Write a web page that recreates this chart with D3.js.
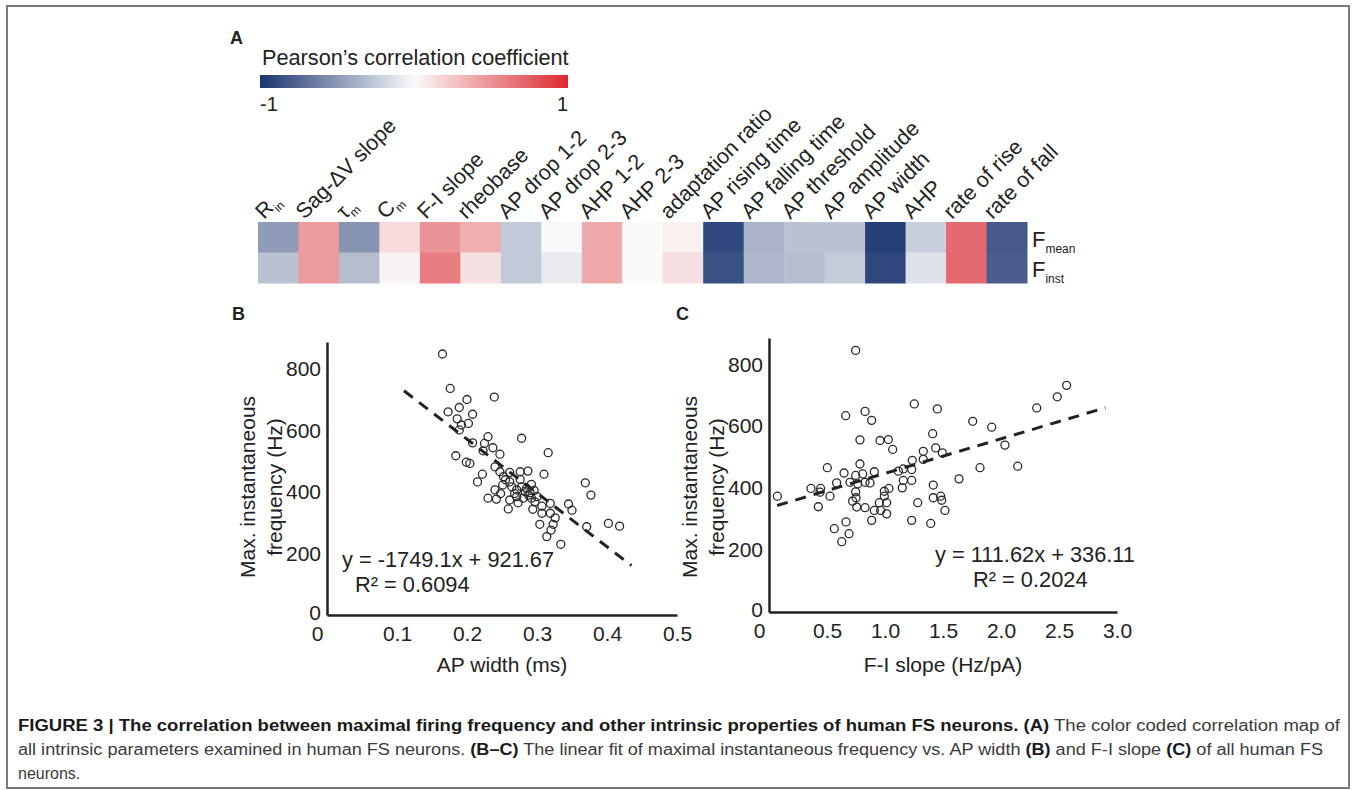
<!DOCTYPE html>
<html>
<head>
<meta charset="utf-8">
<script src="https://cdn.jsdelivr.net/npm/d3@7/dist/d3.min.js"></script>
<style>
  body { margin: 0; background: #fff; }
  svg text { font-family: "Liberation Sans", Arial, sans-serif; fill: #222; }
</style>
</head>
<body>
<div class="center"></div>
<script>
// ---- data ----
const params = ["R_in", "Sag-ΔV slope", "τ_m", "C_m", "F-I slope", "rheobase", "AP drop 1-2",
  "AP drop 2-3", "AHP 1-2", "AHP 2-3", "adaptation ratio", "AP rising time", "AP falling time",
  "AP threshold", "AP amplitude", "AP width", "AHP", "rate of rise", "rate of fall"];
const rowNames = ["mean", "inst"];
// Pearson r vs F_mean and F_inst
const rMean = [-0.48, 0.46, -0.52, 0.15, 0.49, 0.36, -0.25, -0.01, 0.39, 0.0, 0.05,
  -0.9, -0.36, -0.29, -0.29, -0.95, -0.22, 0.69, -0.81];
const rInst = [-0.29, 0.46, -0.31, 0.04, 0.6, 0.12, -0.25, -0.08, 0.39, 0.0, 0.13,
  -0.86, -0.34, -0.31, -0.24, -0.91, -0.12, 0.69, -0.79];
const legendTicks = [-1, 1];

// B: AP width (ms) vs max. instantaneous frequency (Hz)
const scatterB = [[0.165,849],[0.176,737],[0.239,709],[0.200,701],[0.173,661],[0.189,675],[0.208,653],
  [0.186,638],[0.202,623],[0.192,618],[0.189,602],[0.278,575],[0.230,580],[0.208,560],[0.225,558],
  [0.237,544],[0.223,534],[0.316,528],[0.247,523],[0.184,518],[0.199,497],[0.204,493],[0.240,482],
  [0.247,466],[0.261,464],[0.276,466],[0.287,468],[0.310,458],[0.222,458],[0.215,433],[0.252,450],
  [0.261,433],[0.276,441],[0.292,425],[0.240,407],[0.251,423],[0.264,417],[0.271,407],[0.278,417],
  [0.283,401],[0.288,390],[0.292,380],[0.280,380],[0.271,385],[0.230,380],[0.242,377],[0.261,374],
  [0.273,365],[0.259,345],[0.297,368],[0.294,344],[0.307,354],[0.319,363],[0.307,331],[0.319,331],
  [0.345,361],[0.350,341],[0.326,316],[0.304,295],[0.323,295],[0.314,255],[0.320,276],[0.334,230],
  [0.369,430],[0.377,390],[0.371,287],[0.402,298],[0.418,289],[0.285,412],[0.290,398],[0.268,395],
  [0.255,440],[0.296,405],[0.300,385],[0.248,395]];
const fitB = {slope: -1749.1, intercept: 921.67, from: 0.11, to: 0.435};
const xTicksB = [0, 0.1, 0.2, 0.3, 0.4, 0.5];

// C: F-I slope (Hz/pA) vs max. instantaneous frequency (Hz)
const scatterC = [[0.747,845],[2.566,732],[2.485,695],[2.308,659],[1.253,672],[1.451,656],[0.661,634],
  [0.828,648],[0.885,619],[1.756,616],[1.920,597],[0.784,556],[0.957,554],[1.029,557],[1.066,525],
  [1.411,576],[1.437,530],[1.330,519],[1.494,514],[2.034,539],[1.330,493],[1.235,490],[2.144,471],
  [1.819,466],[0.503,466],[0.784,478],[0.647,449],[0.747,441],[0.808,446],[0.908,453],[1.115,455],
  [1.158,462],[1.230,460],[1.158,425],[1.230,425],[1.638,430],[0.583,417],[0.698,419],[0.765,414],
  [0.828,419],[0.871,417],[0.362,399],[0.445,399],[0.440,387],[0.526,374],[0.072,374],[0.747,388],
  [0.750,369],[0.994,390],[1.034,399],[1.149,401],[1.416,410],[1.416,369],[1.480,374],[1.489,361],
  [0.994,374],[1.014,353],[0.951,353],[0.721,358],[0.756,339],[0.828,337],[0.908,328],[0.963,328],
  [1.014,317],[1.282,353],[1.517,328],[0.425,340],[0.664,291],[0.563,269],[0.690,253],[0.627,227],
  [0.885,296],[1.230,296],[1.394,286]];
const fitC = {slope: 111.62, intercept: 336.11, from: 0.07, to: 2.9};
const xTicksC = [0, 0.5, 1.0, 1.5, 2.0, 2.5, 3.0];
const yTicks = [0, 200, 400, 600, 800];

// ---- page ----
const svg = d3.select(".center").append("svg")
  .attr("width", 1357)
  .attr("height", 790);

// frame
svg.append("rect")
  .attr("x", 7).attr("y", 6)
  .attr("width", 1342).attr("height", 782)
  .attr("fill", "none")
  .attr("stroke", "#7a7a7a")
  .attr("stroke-width", 2);

// ---- A: correlation map ----
const color = d3.scaleLinear()
  .domain([-1, 0, 1])
  .range(["#1b3570", "#fafafa", "#dc2a30"]);

svg.append("text")
  .attr("x", 230).attr("y", 44)
  .style("font-size", "18px").style("font-weight", "700")
  .text("A");

svg.append("text")
  .attr("x", 262).attr("y", 65)
  .style("font-size", "21.7px")
  .text("Pearson’s correlation coefficient");

const grad = svg.append("defs").append("linearGradient").attr("id", "rgrad");
d3.range(-1, 1.01, 0.25).forEach(v => {
  grad.append("stop").attr("offset", ((v + 1) / 2 * 100) + "%").attr("stop-color", color(v));
});
const legendScale = d3.scaleLinear().domain([-1, 1]).range([260, 568]);
svg.append("rect")
  .attr("x", legendScale(-1)).attr("y", 75)
  .attr("width", legendScale(1) - legendScale(-1)).attr("height", 13)
  .attr("fill", "url(#rgrad)");
svg.selectAll(".legtick")
  .data(legendTicks)
  .enter().append("text")
  .attr("class", "legtick")
  .attr("x", d => legendScale(d))
  .attr("y", 111)
  .attr("text-anchor", d => d < 0 ? "start" : "end")
  .style("font-size", "20px")
  .text(d => d);

const xHeat = d3.scaleBand().domain(params).range([258, 1027]);
const yHeat = d3.scaleBand().domain(rowNames).range([222, 283]);

const cells = [];
params.forEach((p, i) => {
  cells.push({p: p, row: "mean", r: rMean[i]});
  cells.push({p: p, row: "inst", r: rInst[i]});
});
svg.selectAll(".cell")
  .data(cells)
  .enter().append("rect")
  .attr("class", "cell")
  .attr("x", d => xHeat(d.p))
  .attr("y", d => yHeat(d.row))
  .attr("width", xHeat.bandwidth() + 0.5)
  .attr("height", yHeat.bandwidth() + 0.5)
  .attr("fill", d => color(d.r));

// rotated column labels, some with subscripts
const colLabels = svg.selectAll(".collab")
  .data(params)
  .enter().append("text")
  .attr("class", "collab")
  .attr("transform", d => `translate(${xHeat(d) + 6},220) rotate(-45)`)
  .style("font-size", "21.5px");
colLabels.each(function(d) {
  const parts = d.split("_");
  const t = d3.select(this);
  t.append("tspan").text(parts[0]);
  if (parts.length > 1) {
    t.append("tspan").attr("dy", 5).style("font-size", "12px").text(parts[1]);
  }
});

// row labels
svg.selectAll(".rowlab")
  .data(rowNames)
  .enter().append("text")
  .attr("class", "rowlab")
  .attr("x", 1032)
  .attr("y", d => yHeat(d) + 24.5)
  .style("font-size", "22px")
  .each(function(d) {
    const t = d3.select(this);
    t.append("tspan").text("F");
    t.append("tspan").attr("dy", 6).style("font-size", "12px").text(d);
  });

// ---- B and C: scatter plots ----
function scatter(opts) {
  const x = d3.scaleLinear().domain(opts.xDomain).range(opts.xRange);
  const y = d3.scaleLinear().domain(opts.yDomain).range(opts.yRange);
  const g = svg.append("g");

  g.append("text")
    .attr("x", opts.letterX).attr("y", 320)
    .style("font-size", "18px").style("font-weight", "700")
    .text(opts.letter);

  const xAxis = d3.axisBottom(x)
    .tickValues(opts.xTicks)
    .tickSize(0).tickPadding(11)
    .tickFormat(d => d === 0 ? "0" : d3.format(".1f")(d));
  const yAxis = d3.axisLeft(y)
    .tickValues(yTicks)
    .tickSize(0).tickPadding(6);

  const gx = g.append("g")
    .attr("transform", `translate(0,${opts.yRange[0]})`)
    .call(xAxis);
  const gy = g.append("g")
    .attr("transform", `translate(${opts.xRange[0]},0)`)
    .call(yAxis);
  [gx, gy].forEach(a => {
    a.select(".domain").attr("stroke", "#222").attr("stroke-width", 2.5);
    a.selectAll("text").style("font-size", "21px").attr("fill", "#222")
      .style("font-family", "'Liberation Sans', Arial, sans-serif");
  });
  gx.selectAll(".tick text").filter(d => d === 0).attr("dx", -10);
  gy.selectAll(".tick text").filter(d => d === 0).attr("dy", "0.2em");

  // axis titles
  const midY = 487;
  g.append("text")
    .attr("transform", `translate(${opts.xRange[0] - 72},${midY}) rotate(-90)`)
    .attr("text-anchor", "middle")
    .style("font-size", "21px")
    .text("Max. instantaneous");
  g.append("text")
    .attr("transform", `translate(${opts.xRange[0] - 45},${midY}) rotate(-90)`)
    .attr("text-anchor", "middle")
    .style("font-size", "21px")
    .text("frequency (Hz)");
  g.append("text")
    .attr("x", (opts.xRange[0] + opts.xRange[1]) / 2)
    .attr("y", 672)
    .attr("text-anchor", "middle")
    .style("font-size", "21px")
    .text(opts.xTitle);

  // points
  g.selectAll("circle")
    .data(opts.points)
    .enter().append("circle")
    .attr("cx", d => x(d[0]))
    .attr("cy", d => y(d[1]))
    .attr("r", 4)
    .attr("fill", "none")
    .attr("stroke", "#2a2a2a")
    .attr("stroke-width", 1.3);

  // linear fit
  const f = opts.fit;
  const line = d3.line().x(d => x(d)).y(d => y(f.slope * d + f.intercept));
  g.append("path")
    .attr("d", line([f.from, f.to]))
    .attr("fill", "none")
    .attr("stroke", "#222")
    .attr("stroke-width", 3)
    .attr("stroke-dasharray", "11,8");

  g.append("text")
    .attr("x", opts.eqX).attr("y", opts.eqY)
    .style("font-size", "21.8px")
    .text(`y = ${f.slope}x + ${f.intercept}`.replace("+ -", "- "));
  g.append("text")
    .attr("x", opts.eqX + opts.r2Dx).attr("y", opts.eqY + 25)
    .style("font-size", "21.8px")
    .text("R² = " + opts.r2);
}

scatter({
  letter: "B", letterX: 232,
  xDomain: [0, 0.5], xRange: [327, 677],
  yDomain: [0, 888], yRange: [615, 342],
  xTicks: xTicksB, points: scatterB, fit: fitB,
  xTitle: "AP width (ms)",
  eqX: 342, eqY: 567, r2Dx: 13, r2: "0.6094"
});
scatter({
  letter: "C", letterX: 676,
  xDomain: [0, 3], xRange: [769, 1117],
  yDomain: [0, 885], yRange: [612, 338],
  xTicks: xTicksC, points: scatterC, fit: fitC,
  xTitle: "F-I slope (Hz/pA)",
  eqX: 935, eqY: 562, r2Dx: 38, r2: "0.2024"
});

// ---- caption ----
const caption = [
  [["b", "FIGURE 3 | The correlation between maximal firing frequency and other intrinsic properties of human FS neurons. (A)"],
   ["n", " The color coded correlation map of"]],
  [["n", "all intrinsic parameters examined in human FS neurons. "], ["b", "(B–C)"],
   ["n", " The linear fit of maximal instantaneous frequency vs. AP width "], ["b", "(B)"],
   ["n", " and F-I slope "], ["b", "(C)"], ["n", " of all human FS"]],
  [["n", "neurons."]]
];
const captionWidths = [1322, 1305, null];
caption.forEach((parts, i) => {
  const t = svg.append("text")
    .attr("x", 18).attr("y", 731 + i * 24)
    .style("font-size", "16px");
  if (captionWidths[i]) t.attr("textLength", captionWidths[i]).attr("lengthAdjust", "spacingAndGlyphs");
  parts.forEach(p => {
    t.append("tspan")
      .style("font-weight", p[0] === "b" ? "700" : "400")
      .attr("fill", p[0] === "b" ? "#1a1a1a" : "#3a3a3a")
      .text(p[1]);
  });
});
</script>
</body>
</html>
